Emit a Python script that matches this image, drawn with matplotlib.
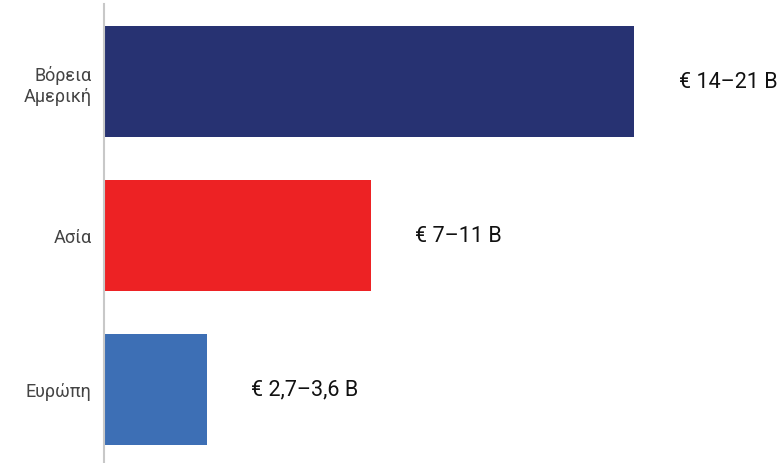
import matplotlib.pyplot as plt

regions = ['Βόρεια\nΑμερική', 'Ασία', 'Ευρώπη']
values = [17.5, 8.8, 3.4]
labels = ['€ 14–21 B', '€ 7–11 B', '€ 2,7–3,6 B']
colors = ['#273272', '#ED2224', '#3D6FB5']

plt.rcParams['font.family'] = ['Roboto', 'DejaVu Sans']

fig = plt.figure(figsize=(7.81, 4.64), dpi=100)
ax = fig.add_axes([104 / 781, 0, 1 - 104 / 781, 459 / 464])

y = range(len(regions))
ax.barh(y, values, height=0.72, color=colors)

for i, (v, lab) in enumerate(zip(values, labels)):
    ax.annotate(lab, (v, i), xytext=(32, 0), textcoords='offset points',
                va='center', ha='left', fontsize=15.5, color='#111111')

ax.set_yticks(list(y))
ax.set_yticklabels(regions, fontsize=13, color='#444444', ha='right',
                   linespacing=1.25)
ax.tick_params(axis='y', length=0, pad=9)
ax.set_xticks([])
ax.set_xlim(0, 22.35)
ax.set_ylim(2.48, -0.503)

for s in ['top', 'right', 'bottom']:
    ax.spines[s].set_visible(False)
ax.spines['left'].set_color('#c8c8c8')
ax.spines['left'].set_linewidth(1.5)

fig.savefig('out.png', dpi=100)
